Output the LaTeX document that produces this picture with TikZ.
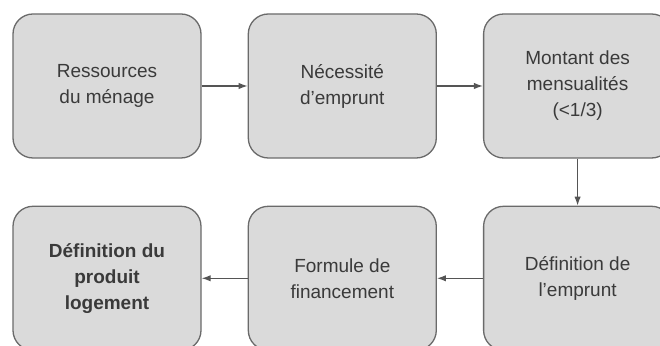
\documentclass[tikz,border=0pt]{standalone}
\usepackage{fontspec}
\setmainfont{Liberation Sans}
\usetikzlibrary{arrows.meta,positioning}
\definecolor{boxfill}{HTML}{DADADA}
\definecolor{boxline}{HTML}{6A6A6A}
\definecolor{boxtext}{HTML}{3A3A3A}

\begin{document}
\begin{tikzpicture}[node distance=23.5pt and 23pt]
\tikzset{
    mynode/.style={rectangle, rounded corners=10pt, draw=boxline, fill=boxfill, line width=0.65pt,
        minimum width=94pt, minimum height=72pt, align=center, text=boxtext,
        font=\fontsize{9.5}{13}\selectfont},
    myarrow/.style={-{Latex[length=4.5pt,width=3.2pt]}, draw=boxline!80!black, line width=0.6pt}
}
\useasboundingbox (0,0) rectangle (330pt,-173pt);
\clip (0,0) rectangle (330pt,-173pt);

% top row, left to right
\node[mynode] (ressources) at (53.5pt,-43pt) {Ressources\\du ménage};
\node[mynode, right=of ressources] (necessite) {Nécessité\\d’emprunt};
\node[mynode, right=of necessite] (mensualites) {Montant des\\mensualités\\(<1/3)};
% bottom row, right to left
\node[mynode, below=of mensualites] (emprunt) {Définition de\\l’emprunt};
\node[mynode, left=of emprunt] (formule) {Formule de\\financement};
\node[mynode, left=of formule, font=\fontsize{9.5}{13}\selectfont\bfseries] (produit) {Définition du\\produit\\logement};

\draw[myarrow] (ressources) -- (necessite);
\draw[myarrow] (necessite) -- (mensualites);
\draw[myarrow] (mensualites) -- (emprunt);
\draw[myarrow] (emprunt) -- (formule);
\draw[myarrow] (formule) -- (produit);

\end{tikzpicture}
\end{document}
